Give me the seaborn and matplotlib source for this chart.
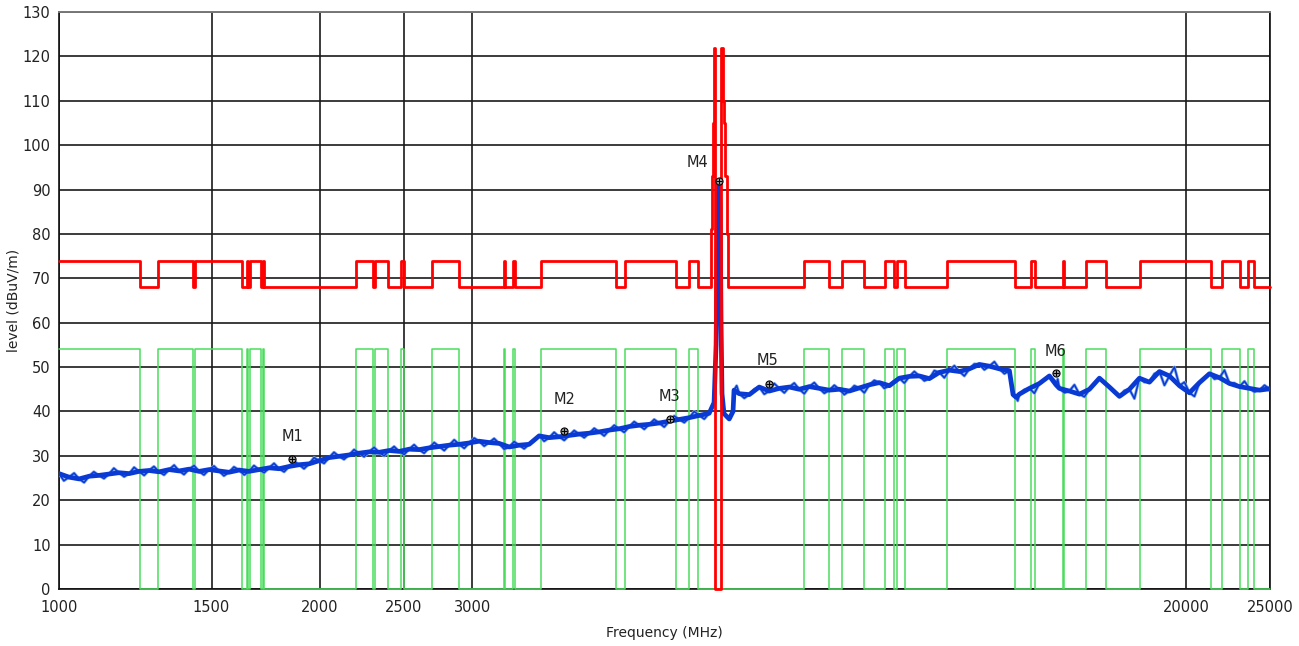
import matplotlib
matplotlib.use("Agg")
import matplotlib.pyplot as plt
import seaborn as sns
import pandas as pd

# measured trace (MHz, dBuV/m), read at roughly every 10 px of the plot
trace_freq = [
    1000, 1027, 1055, 1083, 1112, 1142, 1173, 1205, 1237, 1270,
    1305, 1340, 1376, 1413, 1451, 1490, 1530, 1571, 1614, 1657,
    1702, 1748, 1795, 1843, 1893, 1944, 1996, 2050, 2105, 2162,
    2220, 2280, 2342, 2405, 2470, 2536, 2604, 2675, 2747, 2821,
    2897, 2975, 3055, 3137, 3222, 3309, 3398, 3489, 3583, 3680,
    3779, 3881, 3986, 4093, 4203, 4317, 4433, 4552, 4675, 4801,
    4930, 5063, 5200, 5340, 5484, 5631, 5704, 5735, 5750, 5765,
    5780, 5796, 5811, 5826, 5857, 5939, 5999, 6015, 6099, 6264,
    6432, 6606, 6784, 6966, 7154, 7347, 7545, 7748, 7957, 8172,
    8392, 8618, 8850, 9089, 9334, 9585, 9843, 10109, 10381, 10661,
    10948, 11243, 11546, 11857, 12177, 12505, 12628, 12729, 12842, 13188,
    13543, 13908, 14155, 14283, 14668, 15063, 15469, 15886, 16314, 16754,
    17205, 17669, 18145, 18634, 19136, 19652, 20182, 20726, 21284, 21858,
    22447, 23052, 23673, 24311, 24966, 25000,
]
trace_level = [
    26.0, 25.2, 24.8, 25.4, 25.6, 25.9, 26.2, 26.0, 26.5, 26.7,
    26.4, 26.9, 26.6, 27.0, 26.5, 26.9, 26.6, 26.3, 26.8, 26.5,
    26.9, 27.3, 27.1, 27.6, 28.0, 28.2, 28.9, 29.6, 29.9, 30.2,
    30.6, 30.9, 30.8, 31.2, 31.0, 31.5, 31.4, 31.8, 32.1, 32.4,
    32.6, 32.9, 33.3, 33.0, 32.8, 32.0, 32.4, 32.6, 34.5, 34.1,
    34.3, 34.6, 34.9, 35.1, 35.4, 35.8, 36.1, 36.6, 36.9, 37.1,
    37.4, 37.8, 38.2, 38.6, 39.1, 39.6, 42.0, 55.0, 74.0, 88.0,
    92.0, 86.0, 60.0, 44.0, 39.5, 38.3, 40.0, 44.8, 44.0, 43.8,
    45.5, 44.6, 45.2, 45.5, 45.0, 45.6, 45.2, 44.8, 45.0, 44.6,
    45.3, 46.0, 46.5, 45.8, 47.5, 47.9, 48.0, 47.4, 48.8, 49.3,
    49.0, 49.6, 50.6, 50.2, 49.6, 49.2, 43.8, 43.2, 43.9, 45.2,
    46.3, 48.0, 46.0, 45.2, 44.6, 43.9, 45.0, 47.5, 45.5, 43.4,
    45.0, 47.5, 46.6, 49.0, 48.0, 45.8, 44.2, 46.5, 48.5, 47.6,
    46.3, 45.6, 45.2, 44.8, 45.1, 45.0,
]
# in-between readings (noise excursions of the trace)
trace_mid_freq = [
    1013, 1041, 1069, 1097, 1127, 1157, 1189, 1221, 1254, 1287,
    1322, 1358, 1394, 1432, 1470, 1510, 1550, 1592, 1636, 1679,
    1725, 1771, 1819, 1868, 1918, 1970, 2023, 2077, 2133, 2191,
    2250, 2311, 2373, 2437, 2503, 2570, 2639, 2711, 2784, 2859,
    2936, 3015, 3096, 3179, 3265, 3353, 3443, 3536, 3631, 3729,
    3830, 3933, 4039, 4148, 4259, 4375, 4492, 4613, 4738, 4865,
    4996, 5131, 5270, 5411, 5557,
    6057, 6181, 6348, 6518, 6694, 6875, 7059, 7250, 7445, 7646,
    7852, 8063, 8281, 8504, 8733, 8968, 9211, 9459, 9713, 9975,
    10244, 10520, 10804, 11094, 11393, 11700, 12016, 12340, 12785, 13014,
    13364, 13724, 14094, 14219, 14474, 14864, 15265, 15676, 16099, 16532,
    16978, 17435, 17905, 18388, 18883, 19392, 19915, 20452, 21003, 21569,
    22150, 22747, 23360, 23990, 24636,
]
trace_mid_level = [
    24.4, 26.1, 24.0, 26.4, 24.9, 27.2, 25.3, 27.4, 25.6, 27.6,
    25.7, 27.9, 25.8, 27.8, 25.7, 27.7, 25.5, 27.5, 25.7, 27.8,
    26.2, 28.3, 26.4, 28.8, 27.1, 29.6, 28.3, 30.8, 29.2, 31.4,
    29.8, 31.9, 30.0, 32.1, 30.3, 32.5, 30.6, 33.0, 31.2, 33.6,
    31.7, 34.0, 32.2, 33.9, 31.5, 33.2, 31.6, 33.4, 33.3, 35.3,
    33.5, 35.7, 34.1, 36.2, 34.5, 36.9, 35.3, 37.7, 36.0, 38.2,
    36.5, 39.0, 37.5, 40.0, 38.3,
    45.8, 43.0, 45.0, 43.9, 46.3, 44.2, 46.4, 44.0, 46.5, 44.1,
    45.9, 43.8, 45.8, 44.2, 47.0, 45.2, 46.9, 46.4, 49.0, 46.9,
    49.2, 47.6, 50.3, 48.0, 50.7, 49.4, 51.2, 48.5, 42.4, 44.9,
    44.1, 47.2, 47.0, 47.3, 44.2, 46.0, 43.3, 46.1, 46.4, 44.3,
    44.7, 42.9, 46.6, 48.5, 45.9, 50.0, 46.6, 43.4, 47.4, 47.3,
    49.3, 46.4, 46.8, 44.4, 45.9,
]

# limit mask: bands where the limit is at its upper level
limit_bands = [
    (1000, 1240), (1301, 1428), (1435, 1626), (1648, 1652), (1661, 1711),
    (1718, 1725), (2203, 2305), (2317, 2398), (2483, 2502), (2695, 2895),
    (3264, 3273), (3343, 3361), (3601, 4396), (4502, 5156), (5337, 5466),
    (7245, 7743), (8015, 8498), (8985, 9203), (9277, 9476), (10595, 12695),
    (13247, 13389), (14439, 14477), (15331, 16168), (17699, 21370),
    (22005, 23081), (23577, 23956),
]
peak_limit_freq = [5652, 5678, 5688, 5706, 5723, 5815, 5846, 5862, 5877, 5900, 5915]
peak_limit_level = [81, 93, 105, 122, 0, 122, 110, 105, 93, 80, 68]

red_hi, red_lo = 74, 68
green_hi, green_lo = 54, 0
f_start, f_stop = 1000, 25000

marker_names = ["M1", "M2", "M3", "M4", "M5", "M6"]
marker_freq = [1858, 3828, 5074, 5780, 6601, 14155]
marker_level = [29.3, 35.6, 38.3, 91.9, 46.2, 48.7]

x_ticks = [1000, 1500, 2000, 2500, 3000, 20000, 25000]


def step_series(hi, lo):
    xs, ys = [], []
    cur = f_start
    for a, b in limit_bands:
        if a > cur:
            xs.append(cur)
            ys.append(lo)
        xs.append(a)
        ys.append(hi)
        cur = b
    xs += [cur, f_stop]
    ys += [lo, lo]
    return xs, ys


rx, ry = step_series(red_hi, red_lo)
red = pd.DataFrame({"f": rx + peak_limit_freq, "v": ry + peak_limit_level}).sort_values("f")
gx, gy = step_series(green_hi, green_lo)
base = pd.DataFrame({"f": trace_freq, "v": trace_level})
trace = pd.DataFrame({"f": trace_freq + trace_mid_freq,
                      "v": trace_level + trace_mid_level}).sort_values("f")

sns.set_style("white")
plt.rcParams["font.family"] = ["DejaVu Sans"]

fig, ax = plt.subplots(figsize=(12.99, 6.46), dpi=100)
fig.subplots_adjust(left=59 / 1299, right=1270 / 1299, top=1 - 12 / 646, bottom=1 - 589 / 646)

ax.set_xscale("log")
ax.set_xlim(f_start, f_stop)
ax.set_ylim(0, 130)

sns.lineplot(x=gx, y=gy, ax=ax, color="#4cdc5c", lw=1.1, drawstyle="steps-post",
             estimator=None, sort=False, clip_on=False, zorder=3)
# noisy band: light halo, thick body, spiky edges
sns.lineplot(data=trace, x="f", y="v", ax=ax, color="#7aa3ec", lw=2.2,
             estimator=None, sort=False, zorder=4)
sns.lineplot(data=base, x="f", y="v", ax=ax, color="#0a3ad4", lw=3.4,
             estimator=None, sort=False, zorder=5)
sns.lineplot(data=trace, x="f", y="v", ax=ax, color="#0a3ad4", lw=1.1,
             estimator=None, sort=False, zorder=5)
sns.lineplot(data=red, x="f", y="v", ax=ax, color="#ff0000", lw=2.0, drawstyle="steps-post",
             estimator=None, sort=False, clip_on=False, zorder=6)

ax.scatter(marker_freq, marker_level, s=26, facecolor="#9a9a9a", edgecolor="black", lw=0.8, zorder=8)
ax.scatter(marker_freq, marker_level, s=14, marker="+", color="black", lw=0.7, zorder=9)
label_offsets = [(0, 22), (1, 31), (-1, 23), (-22, 19), (-2, 23), (-1, 21)]
for name, f, v, off in zip(marker_names, marker_freq, marker_level, label_offsets):
    ax.annotate(name, (f, v), xytext=off, textcoords="offset pixels",
                ha="center", va="center", fontsize=10.5, color="#222222", zorder=9)

ax.set_xticks(x_ticks)
ax.set_xticklabels([str(t) for t in x_ticks])
ax.xaxis.set_minor_locator(matplotlib.ticker.NullLocator())
ax.set_yticks(range(0, 131, 10))
ax.tick_params(axis="both", direction="out", length=4, width=1, color="#555555",
               labelsize=10.5, labelcolor="#222222", pad=2)
ax.tick_params(axis="x", pad=4)
ax.grid(True, color="#1a1a1a", lw=1.2)
ax.set_axisbelow(True)
for side in ["left", "right", "bottom"]:
    ax.spines[side].set_color("#111111")
    ax.spines[side].set_linewidth(1.2)
ax.spines["top"].set_color("#777777")
ax.spines["top"].set_linewidth(1.4)

ax.set_xlabel("Frequency (MHz)", fontsize=10, color="#222222")
ax.set_ylabel("level (dBuV/m)", fontsize=10, color="#222222")
ax.xaxis.set_label_coords(0.5, -37 / 577)
ax.yaxis.set_label_coords(-38 / 1211, 0.5)

fig.savefig("out.png", dpi=100)
plt.close(fig)
